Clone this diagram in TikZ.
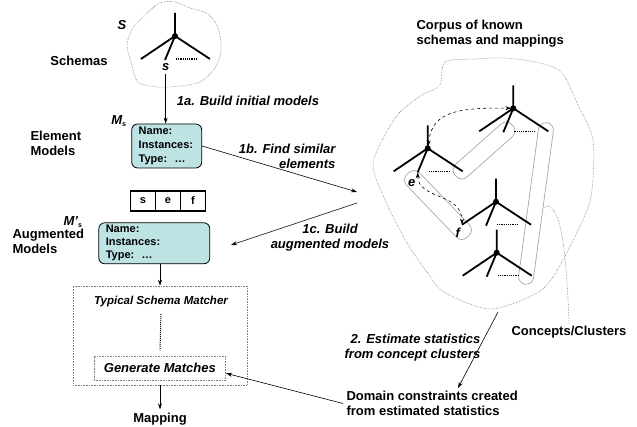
\documentclass[tikz,border=0pt]{standalone}
\usepackage{fontspec}
\setmainfont{Liberation Sans}
\usetikzlibrary{arrows.meta, positioning}
\definecolor{modelfill}{RGB}{189,227,227}
\tikzset{>={Stealth[length=6pt,width=4pt]}}
\tikzset{
  lbl/.style={font=\fontsize{13}{15}\selectfont\bfseries},
  steplbl/.style={font=\fontsize{13}{15}\selectfont\bfseries\itshape},
  modelbox/.style={draw, fill=modelfill, rounded corners=6pt, line width=0.8pt, align=left,
    font=\fontsize{11}{14}\selectfont\bfseries, inner xsep=7pt, inner ysep=1pt},
  cell/.style={draw, line width=1.4pt, minimum width=25pt, minimum height=20pt, outer sep=0pt,
    inner sep=0pt, font=\fontsize{11}{13}\selectfont\bfseries},
  flow/.style={->, line width=0.6pt},
  blob/.style={gray, densely dotted, line width=0.6pt},
  cluster/.style={draw=gray!70, line width=0.7pt, rounded corners=7.5pt, inner sep=0pt},
  branch/.style={line width=1.8pt},
  leaves/.style={densely dotted, line width=1.2pt},
  similar/.style={<->, dashed, line width=0.6pt},
  matcherbox/.style={draw=gray, densely dotted, line width=0.6pt}
}
\newcommand{\schematree}[3]{%
  \begin{scope}[shift={(#2,#3)}]
    \coordinate (#1) at (0,0);
    \coordinate (#1-l) at (-34,23);
    \coordinate (#1-r) at (35,23);
    \coordinate (#1-m) at (-10,24);
    \draw[branch] (0,-23) -- (#1) -- (#1-l) (#1) -- (#1-r) (#1) -- (#1-m);
    \draw[leaves] (1,23) -- (22,23);
    \fill (#1) circle (3pt);
  \end{scope}}

\begin{document}
\begin{tikzpicture}[x=1pt, y=-1pt]
        \useasboundingbox (0,0) rectangle (637,427);

        \draw[blob] plot[smooth cycle, tension=0.55] coordinates {(160,3) (175,2) (190,8) (208,14) (218,28)
          (221,50) (215,68) (200,82) (180,86) (157,87) (138,82) (132,65) (127,45) (133,28) (145,15)};
        \draw[blob] plot[smooth cycle, tension=0.5] coordinates {(445,62) (475,59) (505,58) (540,63) (562,73)
          (578,105) (593,140) (592,190) (585,215) (563,260) (545,287) (520,301) (490,309) (462,301) (440,289)
          (427,272) (407,243) (385,200) (373,165) (385,135) (400,112) (422,95) (440,85)};

        \node[cluster, minimum width=76, minimum height=17, rotate=41.6] (clusterA) at (484,150.5) {};
        \node[cluster, minimum width=87, minimum height=18, rotate=-46.2] (clusterB) at (438,205) {};
        \node[cluster, minimum width=163, minimum height=15, rotate=82.3] (clusterC) at (536,203.5) {};

        \schematree{st}{175}{36}
        \schematree{ta}{427.7}{148.3}
        \schematree{tb}{513.3}{108.3}
        \schematree{tc}{496}{201.7}
        \schematree{td}{496.7}{252.7}

        \node[steplbl] (sName) at (122,25) {S};
        \node[lbl] (schemas) at (79,61) {Schemas};
        \node[steplbl] (sLbl) at (165.7,67) {s};
        \node[steplbl] (eLbl) at (411.7,183) {e};
        \node[steplbl] (fLbl) at (457.7,233) {f};

        \node[steplbl] (msLbl) at (119,121) {M\textsubscript{\upshape\fontsize{7}{8}\selectfont s}};
        \node[lbl, anchor=west, align=left] (elemLbl) at (27,143) {Element\\Models};
        \node[modelbox, text width=56pt, minimum height=44pt] (elemBox) at (166.7,146)
          {Name:\\Instances:\\Type:\ \ \ldots};

        \node[cell] (cellS) at (143,201) {s};
        \node[cell, right=0pt of cellS] (cellE) {e};
        \node[cell, right=0pt of cellE] (cellF) {f};

        \node[steplbl] (mpsLbl) at (73,222) {M’\textsubscript{\upshape\fontsize{7}{8}\selectfont s}};
        \node[lbl, anchor=west, align=left] (augLbl) at (9,241) {Augmented\\Models};
        \node[modelbox, text width=97pt, minimum height=41pt, font=\fontsize{11}{13}\selectfont\bfseries] (augBox) at (154.3,243.3)
          {Name:\\Instances:\\Type:\ \ \ldots};

        \node[matcherbox, minimum width=174, minimum height=99] (matcher) at (160,335.5) {};
        \node[font=\fontsize{11.5}{13}\selectfont\bfseries\itshape] (typical) at (161,302) {Typical Schema Matcher};
        \node[matcherbox, minimum width=131.7, minimum height=23.3, font=\fontsize{13}{15}\selectfont\bfseries\itshape]
          (gen) at (159.9,368.3) {Generate Matches};
        \node[lbl] (mapping) at (160,419) {Mapping};

        \node[lbl, anchor=west, align=left] (corpus) at (413,34) {Corpus of known\\schemas and mappings};
        \node[lbl] (concepts) at (569,332) {Concepts/Clusters};
        \node[lbl, anchor=west, align=left] (domain) at (343,403.5) {Domain constraints created\\from estimated statistics};

        \node[steplbl] (stepOneA) at (248,101) {1a. Build initial models};
        \node[steplbl, anchor=east, align=right] (stepOneB) at (339,156) {1b. Find similar\\elements};
        \node[steplbl, align=center] (stepOneC) at (330,237.5) {1c. Build\\augmented models};
        \node[steplbl, anchor=east, align=right] (stepTwo) at (484,347.5) {2. Estimate statistics\\from concept clusters};

        \coordinate (corpusIn) at (357,192);
        \coordinate (corpusOut) at (357,203);
        \coordinate (augIn) at (231,245);
        \coordinate (blobFoot) at (498,312);
        \coordinate (domainTop) at (458,388);
        \coordinate (clusterEdge) at (543,208);

        \draw[flow] (sLbl.south) -- (sLbl.south |- elemBox.north);
        \draw[flow] (elemBox.east) -- (corpusIn);
        \draw[flow] (corpusOut) -- (augIn);
        \draw[flow] (augBox.south -| matcher.north) -- (matcher.north);
        \draw[leaves, line width=1pt, shorten <=3pt, shorten >=6pt] (typical.south) -- (gen.north);
        \draw[flow] (matcher.south) -- (mapping.north);
        \draw[flow] (domain.west) -- ([yshift=-5pt]gen.east);
        \draw[flow] (blobFoot) -- (domainTop);

        \draw[similar, shorten <=2pt, shorten >=2pt] (ta) .. controls (432,115) and (450,107) .. (tb);
        \draw[similar] (ta-m) .. controls (418,200) and (462,192) .. (tc-l);
        \draw[blob] (concepts.north) .. controls (566,235) and (558,198) .. (clusterEdge);
\end{tikzpicture}
\end{document}
